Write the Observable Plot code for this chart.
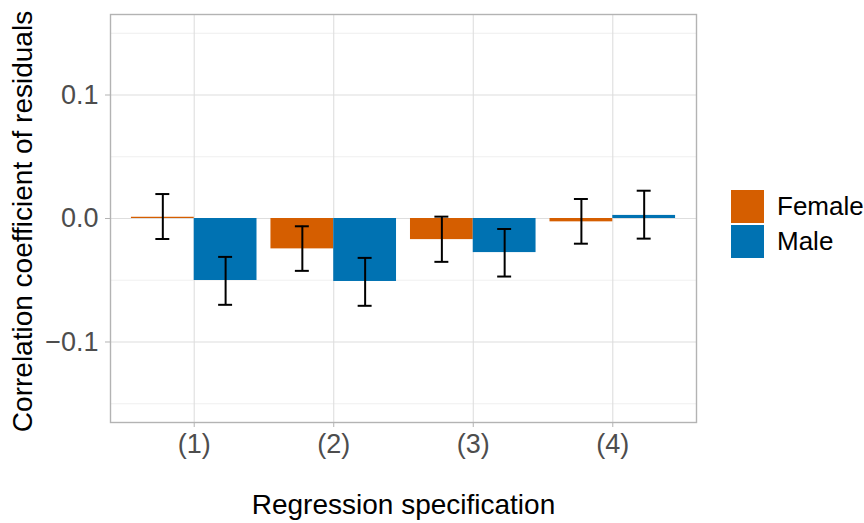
<!DOCTYPE html>
<html>
<head>
<meta charset="utf-8">
<script src="https://cdn.jsdelivr.net/npm/d3@7"></script>
<script src="https://cdn.jsdelivr.net/npm/@observablehq/plot@0.6"></script>
<style>
  html, body { margin: 0; padding: 0; background: white; }
  #wrap { position: relative; width: 864px; height: 523px; font-family: "Liberation Sans", Arial, sans-serif; }
  #legend { position: absolute; left: 731px; top: 190px; }
  .row { display: flex; align-items: center; height: 33px; margin-bottom: 2px; }
  .sw { width: 33px; height: 33px; }
  .lab { margin-left: 13px; font-size: 26px; color: #000; }
</style>
</head>
<body>
<div id="wrap"><div id="legend"></div></div>
<script>
// ---- data ----
const specs = ["(1)", "(2)", "(3)", "(4)"];
const specPos = [1, 2, 3, 4];
const sexes = ["Female", "Male"];
const colors = ["#D55E00", "#0072B2"];

const femaleEst  = [0.001, -0.0246, -0.0171, -0.0027];
const femaleLow  = [-0.0166, -0.0424, -0.0351, -0.0204];
const femaleHigh = [0.0198, -0.0063, 0.0015, 0.0158];

const maleEst  = [-0.0502, -0.0510, -0.0276, 0.0025];
const maleLow  = [-0.0699, -0.0707, -0.0470, -0.0163];
const maleHigh = [-0.0311, -0.0319, -0.0085, 0.0225];

const yMajor = [-0.1, 0, 0.1];
const yMinor = [-0.15, -0.05, 0.05, 0.15];

// ---- table ----
const rows = [];
specs.forEach((s, i) => {
  rows.push({spec: s, pos: specPos[i], sex: "Female", est: femaleEst[i], lo: femaleLow[i], hi: femaleHigh[i]});
  rows.push({spec: s, pos: specPos[i], sex: "Male", est: maleEst[i], lo: maleLow[i], hi: maleHigh[i]});
});
const dodge = 0.45;   // width of each dodged bar, in category units
const cap = 0.05;     // half-width of error-bar caps
const isF = d => d.sex === "Female";
const center = d => d.pos + (isF(d) ? -dodge / 2 : dodge / 2);

const font = "Liberation Sans, Arial, sans-serif";

const chart = Plot.plot({
  width: 864,
  height: 523,
  marginLeft: 110,
  marginRight: 168,
  marginTop: 14,
  marginBottom: 101,
  style: {fontFamily: font, background: "white", overflow: "visible"},
  x: {domain: [0.4, 4.6], axis: null},
  y: {domain: [-0.1652, 0.1652], axis: null},
  color: {domain: sexes, range: colors},
  marks: [
    Plot.ruleY(yMinor, {stroke: "#EBEBEB", strokeWidth: 0.8}),
    Plot.ruleY(yMajor, {stroke: "#DEDEDE", strokeWidth: 1.1}),
    Plot.ruleX(specPos, {stroke: "#DEDEDE", strokeWidth: 1.1}),
    Plot.rectY(rows, {
      x1: d => d.pos - (isF(d) ? dodge : 0),
      x2: d => d.pos + (isF(d) ? 0 : dodge),
      y1: 0, y2: "est", fill: "sex"
    }),
    Plot.ruleX(rows, {x: center, y1: "lo", y2: "hi", stroke: "black", strokeWidth: 2}),
    Plot.ruleY(rows, {x1: d => center(d) - cap, x2: d => center(d) + cap, y: "lo", stroke: "black", strokeWidth: 2}),
    Plot.ruleY(rows, {x1: d => center(d) - cap, x2: d => center(d) + cap, y: "hi", stroke: "black", strokeWidth: 2}),
    Plot.frame({stroke: "#B3B3B3", strokeWidth: 1.4}),
    Plot.axisY({
      ticks: yMajor, tickFormat: d3.format(".1f"), tickSize: 5, tickPadding: 7,
      fontSize: 27, fill: "#4D4D4D", stroke: "#B3B3B3", label: null
    }),
    Plot.axisX({
      ticks: specPos, tickFormat: p => specs[specPos.indexOf(p)], tickSize: 5, tickPadding: 6,
      fontSize: 27, fill: "#4D4D4D", stroke: "#B3B3B3", label: null
    }),
    Plot.text(["Regression specification"], {frameAnchor: "bottom", dy: 91, fontSize: 28, fill: "black"}),
    Plot.text(["Correlation coefficient of residuals"], {
      frameAnchor: "left", textAnchor: "middle", dx: -87, dy: 3, rotate: -90, fontSize: 28, fill: "black"
    })
  ]
});

const wrap = document.getElementById("wrap");
wrap.insertBefore(chart, wrap.firstChild);

const legend = document.getElementById("legend");
sexes.forEach((s, i) => {
  const row = document.createElement("div");
  row.className = "row";
  const sw = document.createElement("div");
  sw.className = "sw";
  sw.style.background = colors[i];
  const lab = document.createElement("span");
  lab.className = "lab";
  lab.textContent = s;
  row.appendChild(sw);
  row.appendChild(lab);
  legend.appendChild(row);
});
</script>
</body>
</html>
